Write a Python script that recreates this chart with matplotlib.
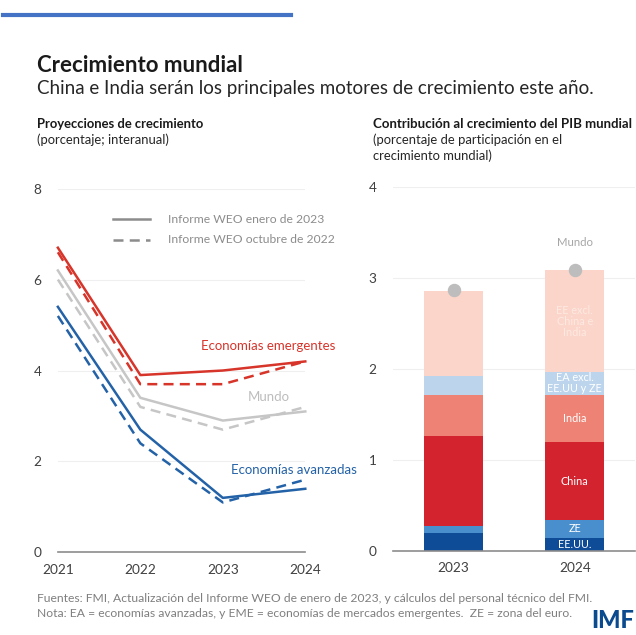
import numpy as np
import matplotlib
matplotlib.use("Agg")
import matplotlib.pyplot as plt
from matplotlib.lines import Line2D

plt.rcParams['font.family'] = ['Lato', 'DejaVu Sans']

# Left panel: growth projections (percent, y/y)
years = [2021, 2022, 2023, 2024]
eme_jan23 = [6.7, 3.9, 4.0, 4.2]
eme_oct22 = [6.6, 3.7, 3.7, 4.2]
world_jan23 = [6.2, 3.4, 2.9, 3.1]
world_oct22 = [6.0, 3.2, 2.7, 3.2]
ae_jan23 = [5.4, 2.7, 1.2, 1.4]
ae_oct22 = [5.2, 2.4, 1.1, 1.6]

# Right panel: contribution to world GDP growth
bar_years = ['2023', '2024']
segments = ['EE.UU.', 'ZE', 'China', 'India', 'EA excl.\nEE.UU y ZE', 'EE excl.\nChina e\nIndia']
contrib = {
    'EE.UU.': [0.20, 0.15],
    'ZE': [0.08, 0.19],
    'China': [0.99, 0.86],
    'India': [0.45, 0.52],
    'EA excl.\nEE.UU y ZE': [0.21, 0.25],
    'EE excl.\nChina e\nIndia': [0.93, 1.12],
}
world_total = [2.87, 3.09]
seg_colors = ['#0f4c97', '#4a8fcd', '#d2232f', '#ee8274', '#bcd5ec', '#fbd5c9']

RED = '#d7342a'
GREY = '#c6c6c6'
BLUE = '#2462a8'
TICK = '#404040'

fig = plt.figure(figsize=(6.36, 6.35), dpi=100)

# top accent bar + titles
fig.add_artist(Line2D([0.005, 0.458], [0.976, 0.976], color='#4472c4', lw=3, transform=fig.transFigure))
fig.text(0.058, 0.897, 'Crecimiento mundial', fontsize=16, fontweight='bold', color='#1a1a1a', va='center')
fig.text(0.058, 0.861, 'China e India serán los principales motores de crecimiento este año.',
         fontsize=13.5, color='#262626', va='center')
fig.text(0.058, 0.805, 'Proyecciones de crecimiento', fontsize=9.4, fontweight='bold', color='#1a1a1a', va='center')
fig.text(0.058, 0.780, '(porcentaje; interanual)', fontsize=9.4, color='#262626', va='center')
fig.text(0.587, 0.805, 'Contribución al crecimiento del PIB mundial', fontsize=9.5, fontweight='bold',
         color='#1a1a1a', va='center')
fig.text(0.587, 0.780, '(porcentaje de participación en el', fontsize=9.4, color='#262626', va='center')
fig.text(0.587, 0.755, 'crecimiento mundial)', fontsize=9.4, color='#262626', va='center')
fig.text(0.058, 0.058, 'Fuentes: FMI, Actualización del Informe WEO de enero de 2023, y cálculos del personal técnico del FMI.',
         fontsize=8.7, color='#7f7f7f', va='center')
fig.text(0.058, 0.034, 'Nota: EA = economías avanzadas, y EME = economías de mercados emergentes.  ZE = zona del euro.',
         fontsize=8.7, color='#7f7f7f', va='center')
fig.text(0.997, 0.004, 'IMF', fontsize=17, fontweight='black', color='#0a4a8f', ha='right', va='bottom')


def style_axis(ax):
    for s in ['top', 'right', 'left']:
        ax.spines[s].set_visible(False)
    ax.spines['bottom'].set_color('#8c8c8c')
    ax.spines['bottom'].set_linewidth(1.2)
    ax.tick_params(length=0, labelsize=9.8, labelcolor=TICK)
    ax.tick_params(axis='y', pad=12)
    ax.tick_params(axis='x', pad=8)
    ax.grid(axis='y', color='#efefef', lw=0.8)
    ax.set_axisbelow(True)


# ---- left: line chart
ax1 = fig.add_axes([0.091, 0.130, 0.389, 0.573])
style_axis(ax1)
for vals_s, vals_d, c in [(world_jan23, world_oct22, GREY), (eme_jan23, eme_oct22, RED), (ae_jan23, ae_oct22, BLUE)]:
    ax1.plot(years, vals_s, color=c, lw=1.8, clip_on=False)
    ax1.plot(years, vals_d, color=c, lw=1.8, ls=(0, (4, 2.5)), clip_on=False)
ax1.set_xlim(2021, 2024)
ax1.set_ylim(0, 8)
ax1.set_xticks(years)
ax1.set_yticks([0, 2, 4, 6, 8])
ax1.text(2024.36, 4.53, 'Economías emergentes', color=RED, fontsize=9.5, ha='right', va='center', clip_on=False)
ax1.text(2023.56, 3.42, 'Mundo', color='#bdbdbd', fontsize=9.5, ha='center', va='center')
ax1.text(2024.62, 1.81, 'Economías avanzadas', color=BLUE, fontsize=9.5, ha='right', va='center', clip_on=False)
ax1.plot([2021.67, 2022.12], [7.33, 7.33], color='#8c8c8c', lw=1.8)
ax1.plot([2021.67, 2022.12], [6.88, 6.88], color='#8c8c8c', lw=1.8, ls=(0, (4, 2.5)))
ax1.text(2022.33, 7.33, 'Informe WEO enero de 2023', color='#8c8c8c', fontsize=8.7, va='center')
ax1.text(2022.33, 6.88, 'Informe WEO octubre de 2022', color='#8c8c8c', fontsize=8.7, va='center')

# ---- right: stacked bars
ax2 = fig.add_axes([0.618, 0.132, 0.381, 0.573])
style_axis(ax2)
x = np.arange(len(bar_years))
bottom = np.zeros(len(bar_years))
for name, col in zip(segments, seg_colors):
    v = np.array(contrib[name])
    ax2.bar(x, v, bottom=bottom, width=0.49, color=col, zorder=2)
    tc = 'white' if name != segments[-1] else '#fde9e2'
    ax2.text(x[1], bottom[1] + v[1] / 2, name, color=tc, fontsize=7.8, ha='center', va='center',
             linespacing=1.0, zorder=4)
    bottom += v
ax2.scatter(x, world_total, s=75, color='#bdbdbd', zorder=3)
ax2.text(x[1], world_total[1] + 0.3, 'Mundo', color='#a6a6a6', fontsize=8.2, ha='center', va='center')
ax2.set_xlim(-0.5, 1.5)
ax2.set_ylim(0, 4)
ax2.set_xticks(x)
ax2.set_xticklabels(bar_years)
ax2.set_yticks([0, 1, 2, 3, 4])

plt.savefig('out.png', dpi=100)
